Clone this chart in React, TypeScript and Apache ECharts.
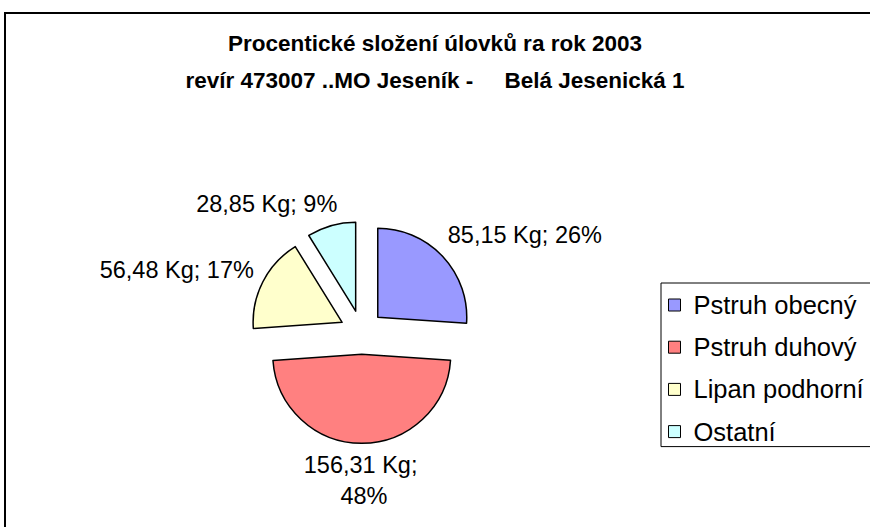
import React, { useEffect, useRef } from "react";
import * as echarts from "echarts";

const categories = ["Pstruh obecný", "Pstruh duhový", "Lipan podhorní", "Ostatní"];
const weightsKg = [85.15, 156.31, 56.48, 28.85];
const colors = ["#9999FF", "#FF8080", "#FFFFCC", "#CCFFFF"];
const titleLines = [
  "Procentické složení úlovků ra rok 2003",
  "revír 473007 ..MO Jeseník -     Belá Jesenická 1",
];

const FONT = "'Liberation Sans', Arial, Helvetica, sans-serif";

// label placement tweaks (layout only)
const labelShift: any[] = [
  { align: "left", dx: 5, dy: -21 },
  { align: "center", dx: 2, dy: 37 },
  { align: "right", dx: -9, dy: -12 },
  { align: "right", dx: 6, dy: -22 },
];
const labelWrap = [false, true, false, false];

export default function App() {
  const ref = useRef<HTMLDivElement>(null);
  useEffect(() => {
    if (!ref.current) return;
    const chart = echarts.init(ref.current, undefined, { renderer: "svg" });
    const data = categories.map((name, i) => ({
      name,
      value: weightsKg[i],
      selected: true,
      itemStyle: { color: colors[i] },
      label: labelWrap[i]
        ? { width: 130, overflow: "break", lineHeight: 31, align: "center" }
        : {},
    }));
    chart.setOption({
      animation: false,
      backgroundColor: "#ffffff",
      title: {
        text: titleLines.join("\n"),
        left: "center",
        top: 25,
        padding: 0,
        textStyle: {
          fontFamily: FONT,
          fontSize: 22.5,
          fontWeight: "bold",
          color: "#000",
          lineHeight: 37,
        },
      },
      legend: {
        orient: "vertical",
        left: 661,
        top: 283,
        padding: [9, 40, 2, 7],
        itemGap: 16.2,
        itemWidth: 28,
        itemHeight: 12,
        icon: "path://M0,0H10V10H0Z",
        selectedMode: false,
        borderColor: "#000",
        borderWidth: 1,
        data: categories,
        itemStyle: { borderColor: "#000", borderWidth: 1 },
        textStyle: { fontFamily: FONT, fontSize: 25.5, color: "#000" },
      },
      graphic: [
        {
          type: "rect",
          shape: { x: 5, y: 13, width: 900, height: 600 },
          style: { fill: "none", stroke: "#000", lineWidth: 2 },
          silent: true,
        },
      ],
      series: [
        {
          type: "pie",
          center: [361.7, 332.3],
          radius: 89,
          startAngle: 90,
          clockwise: true,
          selectedMode: "multiple",
          selectedOffset: 22,
          avoidLabelOverlap: false,
          emphasis: { disabled: true },
          itemStyle: { borderColor: "#000", borderWidth: 1.5 },
          select: { itemStyle: { borderColor: "#000", borderWidth: 1.5 } },
          label: {
            show: true,
            position: "outside",
            fontFamily: FONT,
            fontSize: 23.5,
            color: "#000",
            distanceToLabelLine: 0,
            formatter: (p: any) =>
              p.value.toFixed(2).replace(".", ",") +
              " Kg; " +
              Math.round(p.percent) +
              "%",
          },
          labelLine: { show: false, length: 0, length2: 0 },
          labelLayout: (p: any) => ({
            ...labelShift[p.dataIndex],
            verticalAlign: "middle",
          }),
          data,
        },
      ],
    });
    return () => chart.dispose();
  }, []);
  return (
    <div
      ref={ref}
      style={{ position: "fixed", left: 0, top: 0, width: 870, height: 527 }}
    />
  );
}
